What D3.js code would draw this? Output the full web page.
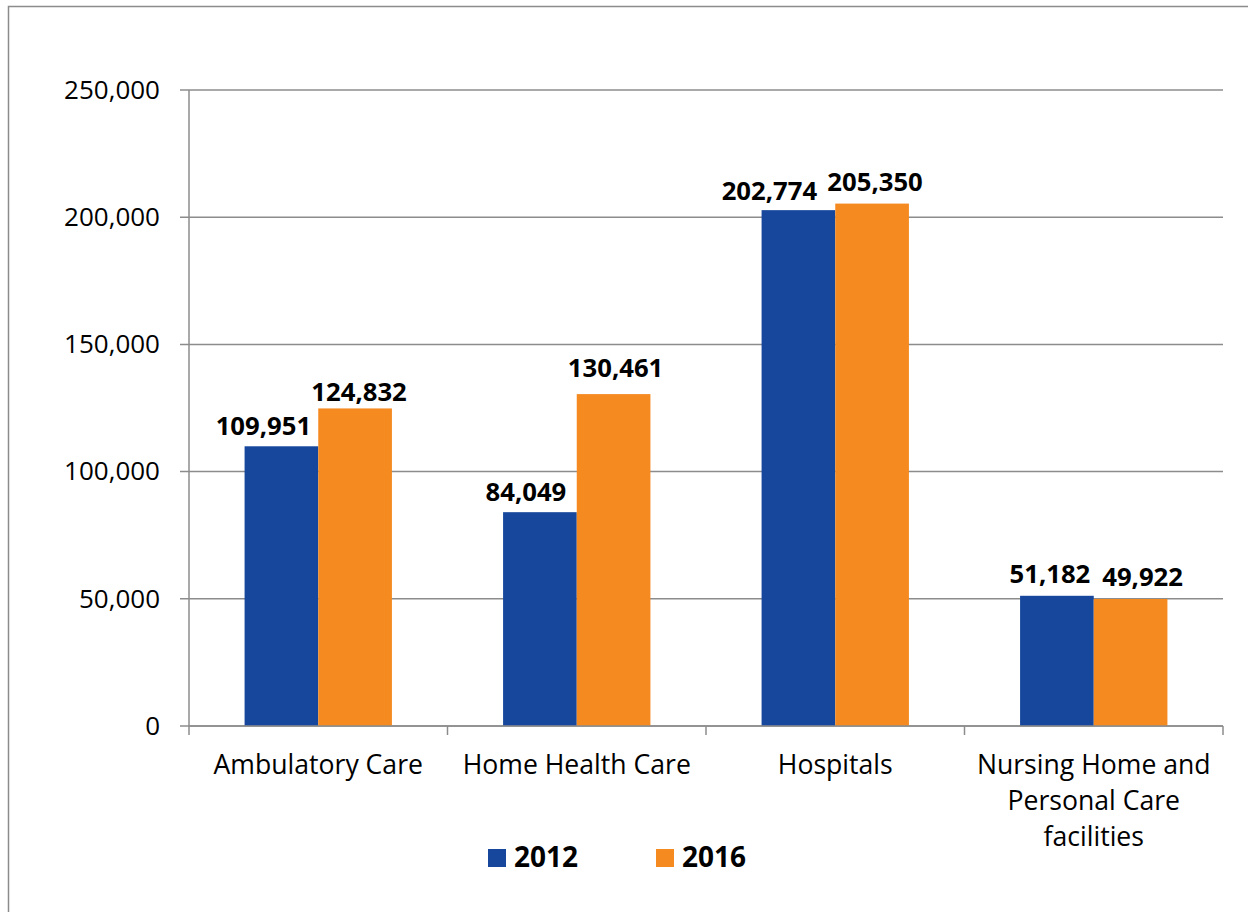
<!DOCTYPE html>
<html>
<head>
<meta charset="utf-8">
<script src="https://cdn.jsdelivr.net/npm/d3@7"></script>
<style>
  html, body { margin: 0; padding: 0; background: #fff; }
  svg { display: block; }
</style>
</head>
<body>
<svg id="chart" width="1248" height="912"></svg>
<script>
// ---- data ----
const categories = ["Ambulatory Care", "Home Health Care", "Hospitals", "Nursing Home and Personal Care facilities"];
const categoryLines = [["Ambulatory Care"], ["Home Health Care"], ["Hospitals"], ["Nursing Home and", "Personal Care", "facilities"]];
const seriesNames = ["2012", "2016"];
const values2012 = [109951, 84049, 202774, 51182];
const values2016 = [124832, 130461, 205350, 49922];
const yTicks = [0, 50000, 100000, 150000, 200000, 250000];

// ---- layout / style (not data) ----
const colors = ["#16479C", "#F58A21"];
const labelNudge = [ // [dx, dy] relative to bar top-centre, per series per category
  [[-18, 0], [-14, 0], [-29, 1], [-7, -2]],
  [[4, 4], [2, -6], [3, -2], [12, -2]]
];

const svg = d3.select("#chart");
const font = "'Open Sans', sans-serif";

// frame
svg.append("path").attr("d", "M8.5,912 L8.5,6.5 L1260,6.5")
  .attr("fill", "none").attr("stroke", "#8c8c8c").attr("stroke-width", 1.5);

const mLeft = 189, mRight = 1223, mTop = 90, mBottom = 726;
const x = d3.scaleBand().domain(categories).range([mLeft, mRight]).paddingInner(0).paddingOuter(0);
const y = d3.scaleLinear().domain([0, 250000]).range([mBottom, mTop]);
const barW = x.bandwidth() * 0.285;
const xs = d3.scaleBand().domain(seriesNames).range([0, barW * 2]);

// gridlines
svg.append("g").selectAll("line").data(yTicks).join("line")
  .attr("x1", mLeft - 9).attr("x2", mRight)
  .attr("y1", d => y(d)).attr("y2", d => y(d))
  .attr("stroke", "#8c8c8c").attr("stroke-width", 1.5);

// y axis
const yAxis = d3.axisLeft(y).tickValues(yTicks).tickSize(9).tickPadding(20)
  .tickFormat(d3.format(","));
const gy = svg.append("g").attr("transform", `translate(${mLeft},0)`).call(yAxis);
gy.select(".domain").remove();
gy.selectAll(".tick line").remove();
gy.selectAll(".tick text").attr("font-family", font).attr("font-size", 26).attr("fill", "#000");
svg.append("line").attr("x1", mLeft).attr("x2", mLeft).attr("y1", mTop).attr("y2", mBottom + 9)
  .attr("stroke", "#8c8c8c").attr("stroke-width", 1.5);

// x axis ticks at boundaries
const boundaries = categories.map(c => x(c)).concat([mRight]);
svg.append("g").selectAll("line").data(boundaries.slice(1)).join("line")
  .attr("x1", d => d).attr("x2", d => d).attr("y1", mBottom).attr("y2", mBottom + 9)
  .attr("stroke", "#8c8c8c").attr("stroke-width", 1.5);

// bars
const series = [values2012, values2016];
series.forEach((vals, si) => {
  const g = svg.append("g");
  g.selectAll("rect").data(vals).join("rect")
    .attr("x", (d, i) => x(categories[i]) + x.bandwidth() / 2 - barW + xs(seriesNames[si]))
    .attr("y", d => y(d))
    .attr("width", barW)
    .attr("height", d => mBottom - y(d))
    .attr("fill", colors[si]);
  g.selectAll("text").data(vals).join("text")
    .attr("x", (d, i) => x(categories[i]) + x.bandwidth() / 2 - barW + xs(seriesNames[si]) + barW / 2 + labelNudge[si][i][0])
    .attr("y", (d, i) => y(d) - 11 + labelNudge[si][i][1])
    .attr("text-anchor", "middle")
    .attr("font-family", font).attr("font-weight", "bold").attr("font-size", 25.7)
    .attr("fill", "#000")
    .text(d => d3.format(",")(d));
});
// redraw bottom gridline over bars
svg.append("line").attr("x1", mLeft).attr("x2", mRight).attr("y1", mBottom).attr("y2", mBottom)
  .attr("stroke", "#8c8c8c").attr("stroke-width", 1.5);

// category labels
categories.forEach((c, i) => {
  const t = svg.append("text")
    .attr("text-anchor", "middle")
    .attr("font-family", font).attr("font-size", 26.6).attr("fill", "#000");
  categoryLines[i].forEach((line, li) => {
    t.append("tspan").attr("x", x(c) + x.bandwidth() / 2).attr("y", 774 + li * 36).text(line);
  });
});

// legend
const legendX = [488, 656];
seriesNames.forEach((s, i) => {
  svg.append("rect").attr("x", legendX[i]).attr("y", 849).attr("width", 18).attr("height", 18).attr("fill", colors[i]);
  svg.append("text").attr("x", legendX[i] + 26).attr("y", 867)
    .attr("font-family", font).attr("font-weight", "bold").attr("font-size", 28).attr("fill", "#000")
    .text(s);
});
</script>
</body>
</html>
